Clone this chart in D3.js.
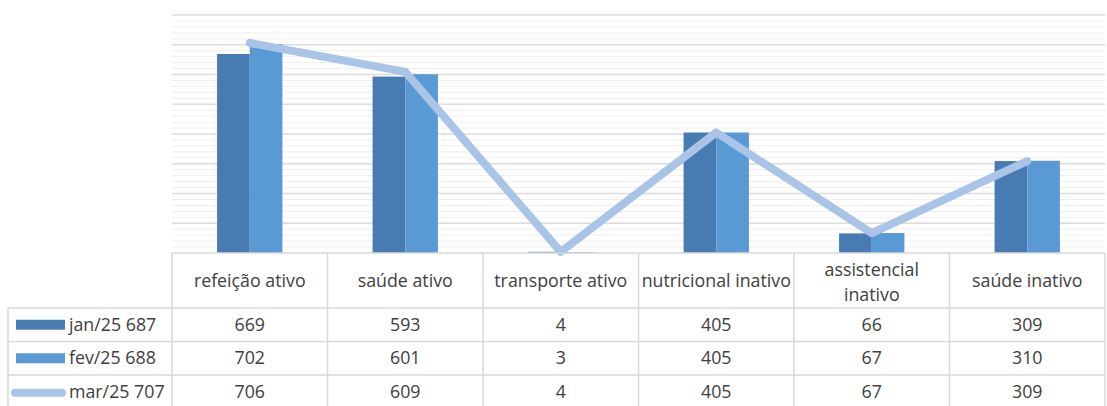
<!DOCTYPE html>
<html>
<head>
<meta charset="utf-8">
<script src="https://cdn.jsdelivr.net/npm/d3@7"></script>
<style>
  body { margin: 0; background: #fff; }
  svg text { font-family: "Open Sans", "Noto Sans", sans-serif; fill: #404040; }
</style>
</head>
<body>
<svg id="chart" width="1107" height="406"></svg>
<script>
// chart data
const categories = ["refeição ativo", "saúde ativo", "transporte ativo", "nutricional inativo", "assistencial inativo", "saúde inativo"];
const seriesNames = ["jan/25 687", "fev/25 688", "mar/25 707"];
const janValues = [669, 593, 4, 405, 66, 309];
const fevValues = [702, 601, 3, 405, 67, 310];
const marValues = [706, 609, 4, 405, 67, 309];

const svg = d3.select("#chart");

const plot = { left: 172, right: 1105, top: 15, bottom: 253 };
const table = { left: 8, headerBottom: 308, rowH: 33.5 };
const fontSize = "17.8px";

const x = d3.scaleBand().domain(categories).range([plot.left, plot.right]);
const y = d3.scaleLinear().domain([0, 800]).range([plot.bottom, plot.top]);

const colors = ["#477bb1", "#5a9ad4", "#a9c4e7"];

// gridlines: minor every 20, major every 100
svg.append("g")
    .selectAll("line")
    .data(d3.range(20, 800, 20).filter(v => v % 100 !== 0))
    .enter().append("line")
    .attr("x1", plot.left).attr("x2", plot.right)
    .attr("y1", d => y(d)).attr("y2", d => y(d))
    .attr("stroke", "#efefef").attr("stroke-width", 1);

svg.append("g")
    .selectAll("line")
    .data(d3.range(100, 801, 100))
    .enter().append("line")
    .attr("x1", plot.left).attr("x2", plot.right)
    .attr("y1", d => y(d)).attr("y2", d => y(d))
    .attr("stroke", "#dcdcdc").attr("stroke-width", 1.5);

// bars
const groupW = x.bandwidth() * 0.42;
const x1 = d3.scaleBand().domain([0, 1]).range([0, groupW]);

[janValues, fevValues].forEach((vals, s) => {
    svg.append("g")
        .selectAll("rect")
        .data(vals)
        .enter().append("rect")
        .attr("x", (d, i) => x(categories[i]) + (x.bandwidth() - groupW) / 2 + x1(s))
        .attr("y", d => y(d))
        .attr("width", x1.bandwidth())
        .attr("height", d => y(0) - y(d))
        .attr("fill", colors[s]);
});

// line series
const line = d3.line()
    .x((d, i) => x(categories[i]) + x.bandwidth() / 2)
    .y(d => y(d));

svg.append("path")
    .datum(marValues)
    .attr("fill", "none")
    .attr("stroke", colors[2])
    .attr("stroke-width", 8)
    .attr("stroke-linejoin", "round")
    .attr("stroke-linecap", "round")
    .attr("d", line);

// data table
const grid = svg.append("g").attr("stroke", "#d9d9d9").attr("stroke-width", 1.5);
const tableBottom = table.headerBottom + table.rowH * 3;

grid.append("line").attr("x1", plot.left).attr("x2", plot.right)
    .attr("y1", plot.bottom).attr("y2", plot.bottom);
d3.range(4).forEach(r => {
    const yy = table.headerBottom + r * table.rowH;
    grid.append("line").attr("x1", table.left).attr("x2", plot.right)
        .attr("y1", yy).attr("y2", yy);
});
x.domain().forEach(c => {
    grid.append("line").attr("x1", x(c)).attr("x2", x(c))
        .attr("y1", plot.bottom).attr("y2", tableBottom);
});
grid.append("line").attr("x1", plot.right).attr("x2", plot.right)
    .attr("y1", plot.bottom).attr("y2", tableBottom);
grid.append("line").attr("x1", table.left).attr("x2", table.left)
    .attr("y1", table.headerBottom).attr("y2", tableBottom);

// header labels, wrapped when too wide
categories.forEach(c => {
    const cx = x(c) + x.bandwidth() / 2;
    const t = svg.append("text")
        .attr("x", cx)
        .attr("text-anchor", "middle")
        .style("font-size", fontSize);
    t.text(c);
    if (t.node().getComputedTextLength() > 151) {
        const words = c.split(" ");
        t.text(null);
        t.append("tspan").attr("x", cx).attr("y", 276).text(words.slice(0, -1).join(" "));
        t.append("tspan").attr("x", cx).attr("y", 301).text(words[words.length - 1]);
    } else {
        t.attr("y", 287);
    }
});

// value rows with legend keys
[janValues, fevValues, marValues].forEach((vals, s) => {
    const rowMid = table.headerBottom + table.rowH * (s + 0.5);
    svg.append("g")
        .selectAll("text")
        .data(vals)
        .enter().append("text")
        .attr("x", (d, i) => x(categories[i]) + x.bandwidth() / 2)
        .attr("y", rowMid + 6)
        .attr("text-anchor", "middle")
        .style("font-size", fontSize)
        .text(d => d);

    if (s < 2) {
        svg.append("rect")
            .attr("x", 16).attr("y", rowMid - 5)
            .attr("width", 49).attr("height", 10)
            .attr("fill", colors[s]);
    } else {
        svg.append("line")
            .attr("x1", 15).attr("x2", 62)
            .attr("y1", rowMid + 1).attr("y2", rowMid + 1)
            .attr("stroke", colors[s]).attr("stroke-width", 8)
            .attr("stroke-linecap", "round");
    }
    svg.append("text")
        .attr("x", 69).attr("y", rowMid + 6)
        .style("font-size", fontSize)
        .text(seriesNames[s]);
});
</script>
</body>
</html>
